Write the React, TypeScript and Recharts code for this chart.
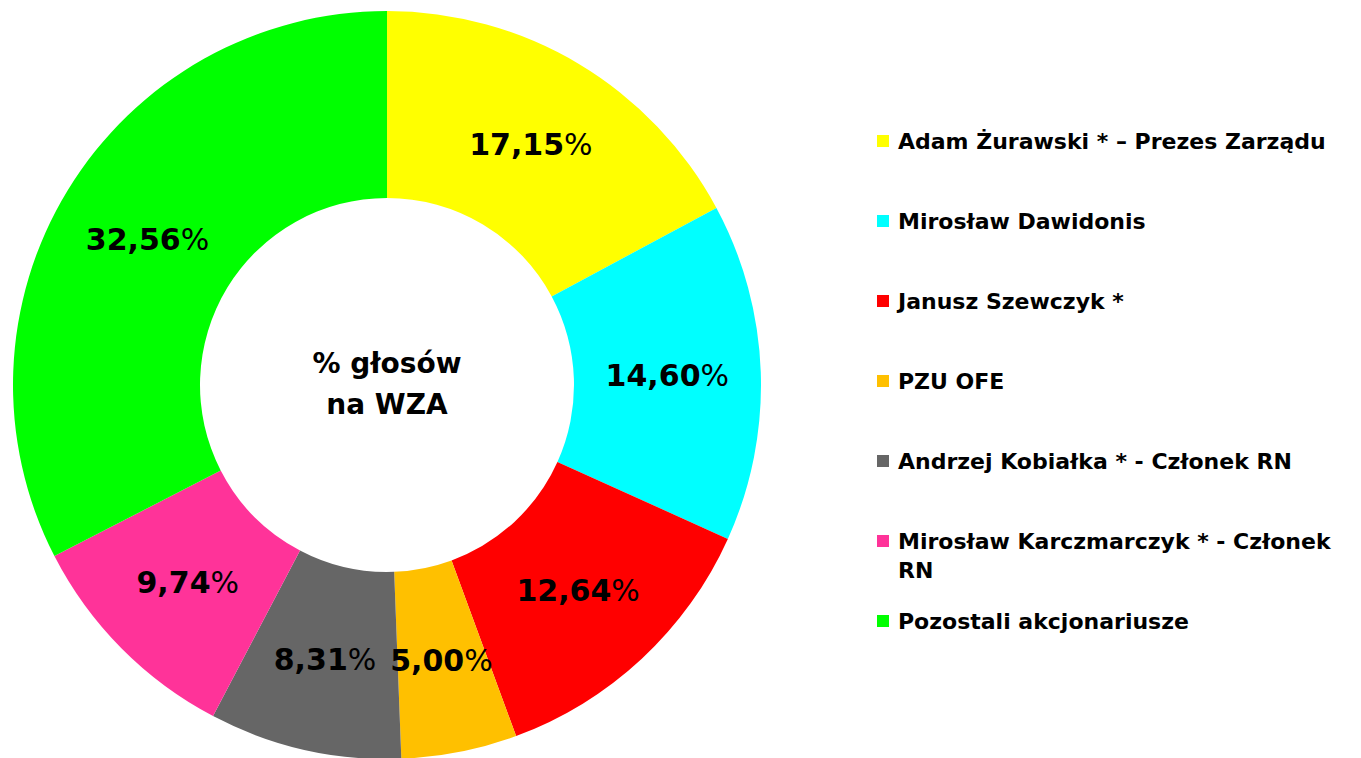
import { Cell, Label, Legend, Pie, PieChart } from "recharts"

const names = [
  "Adam Żurawski * – Prezes Zarządu",
  "Mirosław Dawidonis",
  "Janusz Szewczyk *",
  "PZU OFE",
  "Andrzej Kobiałka * - Członek RN",
  "Mirosław Karczmarczyk * - Członek RN",
  "Pozostali akcjonariusze",
]
const shares = [17.15, 14.6, 12.64, 5.0, 8.31, 9.74, 32.56]
const colors = ["#ffff00", "#00ffff", "#ff0000", "#ffc000", "#666666", "#ff3399", "#00ff00"]
const centerLines = ["% głosów", "na WZA"]

const data = names.map((name, i) => ({ name, value: shares[i] }))

const FONT = "'DejaVu Sans', sans-serif"
const RAD = Math.PI / 180
const CX = 387
const CY = 385

function SliceLabel({ cx, cy, midAngle, innerRadius, outerRadius, value }) {
  const r = (innerRadius + outerRadius) / 2
  const x = cx + r * Math.cos(-midAngle * RAD)
  const y = cy + r * Math.sin(-midAngle * RAD)
  const txt = value.toFixed(2).replace(".", ",")
  return (
    <text
      x={x}
      y={y}
      textAnchor="middle"
      dominantBaseline="central"
      fontFamily={FONT}
      fontSize={30}
      fill="#000"
    >
      <tspan fontWeight="bold">{txt}</tspan>
      <tspan fontWeight="normal">%</tspan>
    </text>
  )
}

function CenterLabel() {
  return (
    <text textAnchor="middle" fontFamily={FONT} fontSize={28} fontWeight="bold" fill="#000">
      <tspan x={CX} y={CY - 12}>{centerLines[0]}</tspan>
      <tspan x={CX} y={CY + 29}>{centerLines[1]}</tspan>
    </text>
  )
}

function LegendList() {
  return (
    <div style={{ fontFamily: FONT, fontWeight: "bold", fontSize: 22, color: "#000" }}>
      {names.map((n, i) => (
        <div key={n} style={{ display: "flex", alignItems: "flex-start", height: 80, width: 484 }}>
          <span
            style={{
              display: "inline-block",
              width: 12,
              height: 12,
              background: colors[i],
              marginTop: 8,
              marginRight: 9,
              flex: "none",
            }}
          />
          <span style={{ lineHeight: "29px", width: 462 }}>{n}</span>
        </div>
      ))}
    </div>
  )
}

export default function App() {
  return (
    <div style={{ position: "absolute", left: 0, top: 0, background: "#fff" }}>
      <PieChart width={1361} height={758} margin={{ top: 0, right: 0, bottom: 0, left: 0 }}>
        <Pie
          data={data}
          dataKey="value"
          cx={CX}
          cy={CY}
          innerRadius={187}
          outerRadius={374}
          startAngle={90}
          endAngle={-270}
          stroke="none"
          label={SliceLabel}
          labelLine={false}
          isAnimationActive={false}
        >
          {data.map((d, i) => (
            <Cell key={d.name} fill={colors[i]} />
          ))}
          <Label position="center" content={CenterLabel} />
        </Pie>
        <Legend
          layout="vertical"
          content={LegendList}
          wrapperStyle={{ left: 877, top: 127, width: 484 }}
        />
      </PieChart>
    </div>
  )
}
